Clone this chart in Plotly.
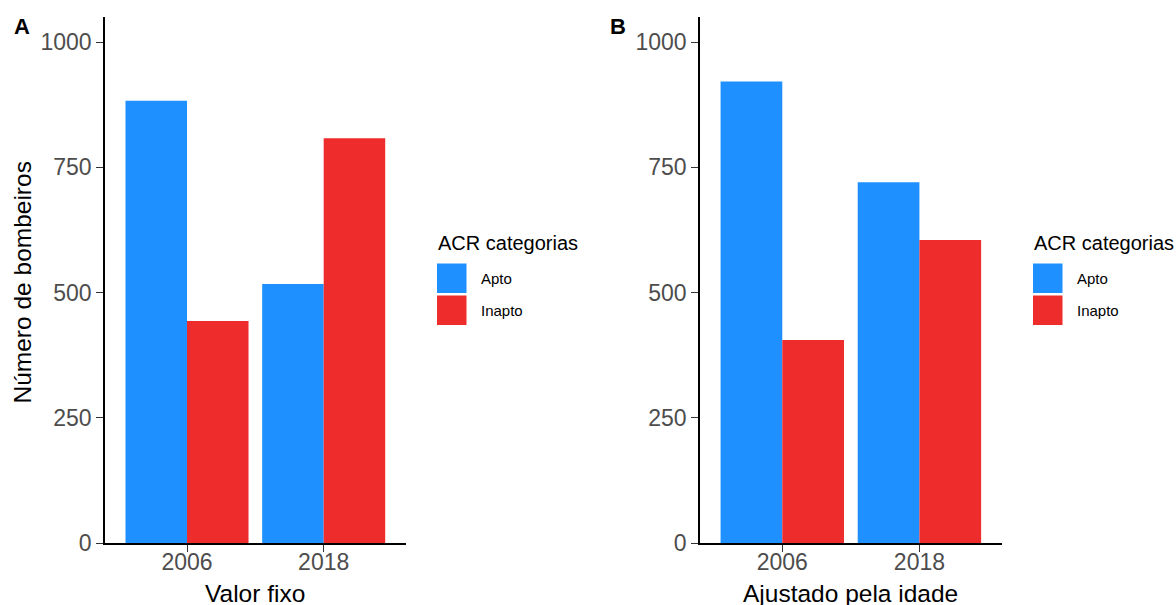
import plotly.graph_objects as go

# Firefighter counts by cardiorespiratory fitness (ACR) category
anos = ["2006", "2018"]
categorias = ["Apto", "Inapto"]
valor_fixo_apto = [883, 517]
valor_fixo_inapto = [443, 808]
ajustado_apto = [921, 720]
ajustado_inapto = [405, 605]
y_ticks = [0, 250, 500, 750, 1000]

cores = {"Apto": "#1E90FF", "Inapto": "#EE2C2C"}
W, H = 1176, 605
FONT = "Liberation Sans, Arial, sans-serif"


def px_x(p):
    return p / W


def px_y(p):
    return 1 - p / H


fig = go.Figure()

paineis = [
    ("x", "y", valor_fixo_apto, valor_fixo_inapto),
    ("x2", "y2", ajustado_apto, ajustado_inapto),
]
for xa, ya, apto, inapto in paineis:
    for nome, vals in (("Apto", apto), ("Inapto", inapto)):
        fig.add_trace(go.Bar(
            x=anos, y=vals, name=nome, xaxis=xa, yaxis=ya,
            marker=dict(color=cores[nome], line=dict(width=0)),
            showlegend=False, offsetgroup=nome,
        ))

y_dom = [px_y(543), px_y(17)]
x_doms = [[px_x(105), px_x(405.7)], [px_x(700), px_x(1001.7)]]
titulos_x = ["Valor fixo", "Ajustado pela idade"]

eixo_x = dict(
    type="category", range=[-0.6, 1.6], showline=True, linecolor="black",
    linewidth=1.5, ticks="outside", ticklen=7, tickwidth=1.3, tickcolor="#333333",
    tickfont=dict(size=23, color="#4D4D4D", family=FONT), showgrid=False,
    zeroline=False, automargin=False, ticklabelstandoff=-9,
)
eixo_y = dict(
    range=[0, 1050], tickvals=y_ticks, showline=True, linecolor="black",
    linewidth=1.5, ticks="outside", ticklen=7, tickwidth=1.3, tickcolor="#333333",
    tickfont=dict(size=23, color="#4D4D4D", family=FONT), showgrid=False,
    zeroline=False, automargin=False,
)

fig.update_layout(
    width=W, height=H, margin=dict(l=0, r=0, t=0, b=0),
    plot_bgcolor="white", paper_bgcolor="white",
    barmode="group", bargap=0.1, bargroupgap=0,
    font=dict(family=FONT, color="black"),
    xaxis=dict(eixo_x, domain=x_doms[0], anchor="y"),
    xaxis2=dict(eixo_x, domain=x_doms[1], anchor="y2"),
    yaxis=dict(eixo_y, domain=y_dom, anchor="x"),
    yaxis2=dict(eixo_y, domain=y_dom, anchor="x2"),
    showlegend=False,
)

# Axis titles
for titulo, dom in zip(titulos_x, x_doms):
    fig.add_annotation(
        text=titulo, x=(dom[0] + dom[1]) / 2, y=px_y(593), xref="paper", yref="paper",
        xanchor="center", yanchor="middle", showarrow=False,
        font=dict(size=24.5, color="black", family=FONT),
    )
fig.add_annotation(
    text="Número de bombeiros", x=px_x(22), y=px_y(282.5), xref="paper", yref="paper",
    xanchor="center", yanchor="middle", textangle=-90, showarrow=False,
    font=dict(size=24.5, color="black", family=FONT),
)

# Panel tags
for tag, px in (("A", 12), ("B", 608)):
    fig.add_annotation(
        text=f"<b>{tag}</b>", x=px_x(px), y=px_y(27), xref="paper", yref="paper",
        xanchor="left", yanchor="middle", showarrow=False,
        font=dict(size=22, color="black", family=FONT),
    )

# Legends drawn beside each panel
for leg_x in (437, 1033):
    fig.add_annotation(
        text="ACR categorias", x=px_x(leg_x - 1), y=px_y(243), xref="paper", yref="paper",
        xanchor="left", yanchor="middle", showarrow=False,
        font=dict(size=20, color="black", family=FONT),
    )
    for i, nome in enumerate(categorias):
        top = 263.5 + i * 32
        fig.add_shape(
            type="rect", xref="paper", yref="paper",
            x0=px_x(leg_x), x1=px_x(leg_x + 29.5), y0=px_y(top), y1=px_y(top + 29.5),
            fillcolor=cores[nome], line=dict(width=0),
        )
        fig.add_annotation(
            text=nome, x=px_x(leg_x + 42), y=px_y(top + 15), xref="paper", yref="paper",
            xanchor="left", yanchor="middle", showarrow=False,
            font=dict(size=15, color="black", family=FONT),
        )

fig.write_html("out.html")
